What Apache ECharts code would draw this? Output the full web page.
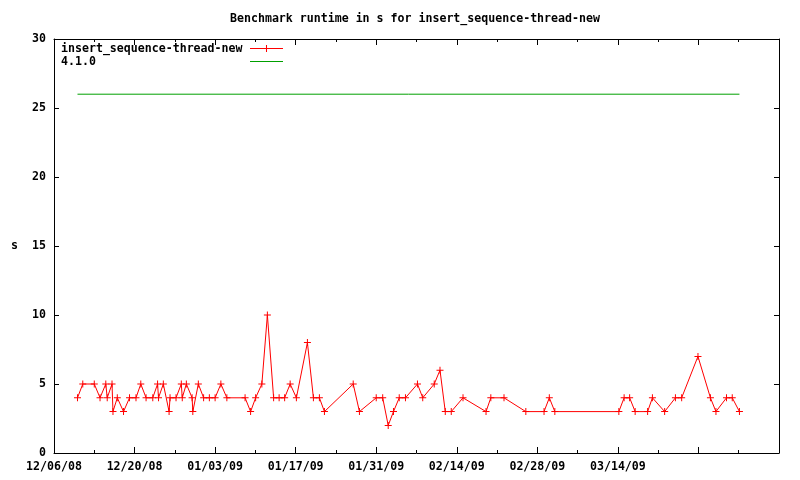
<!DOCTYPE html>
<html><head><meta charset="utf-8">
<script src="https://cdn.jsdelivr.net/npm/echarts@6/dist/echarts.min.js"></script>
<style>html,body{margin:0;padding:0;background:#fff}#c{width:800px;height:480px}</style>
</head><body><div id="c"></div>
<script>
const chartTitle = 'Benchmark runtime in s for insert_sequence-thread-new';
const seriesName = 'insert_sequence-thread-new';
const refName = '4.1.0';
const refValue = 26;
const axisStart = '2008-12-06 00:00';
const axisEnd = '2009-04-11 00:00';
const xTickDays = 14;
const xTickLabels = ['12/06/08','12/20/08','01/03/09','01/17/09','01/31/09','02/14/09','02/28/09','03/14/09','',''];
const yMin = 0, yMax = 30, yStep = 5;
const runDates = [
'2008-12-10 02:00','2008-12-11 00:00','2008-12-13 00:00','2008-12-14 00:00','2008-12-15 00:00','2008-12-15 06:00',
'2008-12-16 02:00','2008-12-16 06:00','2008-12-17 00:00','2008-12-18 02:00','2008-12-19 03:00','2008-12-20 06:00',
'2008-12-21 02:00','2008-12-22 00:00','2008-12-23 04:00','2008-12-24 00:00','2008-12-24 04:00','2008-12-25 00:00',
'2008-12-26 00:00','2008-12-26 04:00','2008-12-27 05:00','2008-12-28 03:00','2008-12-28 07:00','2008-12-29 00:00',
'2008-12-30 00:00','2008-12-30 03:00','2008-12-31 02:00','2009-01-01 00:00','2009-01-02 00:00','2009-01-03 00:00',
'2009-01-04 00:00','2009-01-05 01:00','2009-01-08 05:00','2009-01-09 04:00','2009-01-10 01:00','2009-01-11 03:00',
'2009-01-12 02:00','2009-01-13 04:00','2009-01-14 03:00','2009-01-15 02:00','2009-01-16 01:00','2009-01-17 03:00',
'2009-01-19 01:00','2009-01-20 02:00','2009-01-21 03:00','2009-01-22 00:00','2009-01-27 00:00','2009-01-28 02:00',
'2009-01-31 00:00','2009-02-01 03:00','2009-02-02 02:00','2009-02-03 00:00','2009-02-04 00:00','2009-02-05 02:00',
'2009-02-07 04:00','2009-02-08 02:00','2009-02-10 02:00','2009-02-11 02:00','2009-02-12 00:00','2009-02-13 01:00',
'2009-02-15 02:00','2009-02-19 02:00','2009-02-19 22:00','2009-02-22 05:00','2009-02-26 00:00','2009-03-01 04:00',
'2009-03-02 02:00','2009-03-03 01:00','2009-03-14 04:00','2009-03-15 02:00','2009-03-16 01:00','2009-03-17 00:00',
'2009-03-19 04:00','2009-03-20 00:00','2009-03-22 03:00','2009-03-24 00:00','2009-03-25 02:00','2009-03-27 22:00',
'2009-03-30 02:00','2009-03-31 01:00','2009-04-01 21:00','2009-04-02 21:00','2009-04-04 03:00'
];
const runtimes = [
4,5,5,4,5,4,
5,3,4,3,4,4,
5,4,4,5,4,5,
3,4,4,5,4,5,
4,3,5,4,4,4,
5,4,4,3,4,5,
10,4,4,4,5,4,
8,4,4,3,5,3,
4,4,2,3,4,4,
5,4,5,6,3,3,
4,3,4,4,3,3,
4,3,3,4,4,3,
3,4,3,4,4,7,
4,3,4,4,3
];

const DAY = 86400000;
function ms(s){ return Date.parse(s.replace(' ','T') + ':00Z'); }
const t0 = ms(axisStart);
function dayOf(s){ return (ms(s) - t0) / DAY; }
const xMax = dayOf(axisEnd);
const runData = runDates.map((d,i) => [dayOf(d), runtimes[i]]);
const refData = [[dayOf(runDates[0]), refValue], [dayOf(runDates[runDates.length-1]), refValue]];

const FONT = 'DejaVu Sans Mono';
const FS = 11.6;
const plusPath = 'path://M3,0H4V3H7V4H4V7H3V4H0V3H3Z';
const black = '#000';

const xCommon = {
  type: 'value', min: 0, max: xMax, interval: xTickDays,
  axisLine: {show: true, onZero: false, lineStyle: {color: black, width: 1}},
  axisTick: {show: true, inside: true, length: 6, lineStyle: {color: black}},
  minorTick: {show: true, splitNumber: 2, length: 3, lineStyle: {color: black}},
  splitLine: {show: false}, minorSplitLine: {show: false}
};
const yCommon = {
  type: 'value', min: yMin, max: yMax, interval: yStep,
  axisLine: {show: true, onZero: false, lineStyle: {color: black, width: 1}},
  axisTick: {show: true, inside: true, length: 5, lineStyle: {color: black}},
  splitLine: {show: false}
};

const chart = echarts.init(document.getElementById('c'), null, {renderer: 'canvas'});
chart.setOption({
  animation: false,
  backgroundColor: '#fff',
  title: {
    text: chartTitle, left: 230, top: 12, padding: 0,
    textStyle: {fontFamily: FONT, fontSize: FS, fontWeight: 'bold', color: black, lineHeight: 14}
  },
  legend: {
    orient: 'vertical', left: 61, top: 42, padding: 0, itemGap: 0,
    align: 'right', itemWidth: 33, itemHeight: 9,
    lineStyle: {width: 1},
    data: [{name: seriesName}, {name: refName, itemStyle: {opacity: 0}}],
    formatter: n => '{a|' + n + '}',
    textStyle: {fontFamily: FONT, fontSize: FS, fontWeight: 'bold', color: black, lineHeight: 13,
      rich: {a: {width: 184, align: 'left', fontFamily: FONT, fontSize: FS, fontWeight: 'bold', color: black, lineHeight: 13}}}
  },
  grid: {left: 54, right: 21, top: 39, bottom: 27, containLabel: false},
  xAxis: [
    Object.assign({}, xCommon, {
      position: 'bottom',
      axisLabel: {show: true, margin: 8, fontFamily: FONT, fontSize: FS, fontWeight: 'bold', color: black,
        formatter: v => xTickLabels[Math.round(v / xTickDays)] || ''}
    }),
    Object.assign({}, xCommon, {position: 'top', axisLabel: {show: false}})
  ],
  yAxis: [
    Object.assign({}, yCommon, {
      position: 'left', name: 's', nameLocation: 'middle', nameRotate: 0, nameGap: 36,
      nameTextStyle: {fontFamily: FONT, fontSize: FS, fontWeight: 'bold', color: black},
      axisLabel: {show: true, margin: 8, fontFamily: FONT, fontSize: FS, fontWeight: 'bold', color: black}
    }),
    Object.assign({}, yCommon, {position: 'right', axisLabel: {show: false}})
  ],
  series: [
    {
      name: seriesName, type: 'line', data: runData,
      symbol: plusPath, symbolSize: 7, showAllSymbol: true,
      color: '#ff0000',
      lineStyle: {color: '#ff0000', width: 1},
      itemStyle: {color: '#ff0000'},
      emphasis: {disabled: true}
    },
    {
      name: refName, type: 'line', data: refData,
      symbol: 'none', color: '#00a000',
      lineStyle: {color: '#00a000', width: 1},
      emphasis: {disabled: true}
    }
  ]
});
</script>
</body></html>
